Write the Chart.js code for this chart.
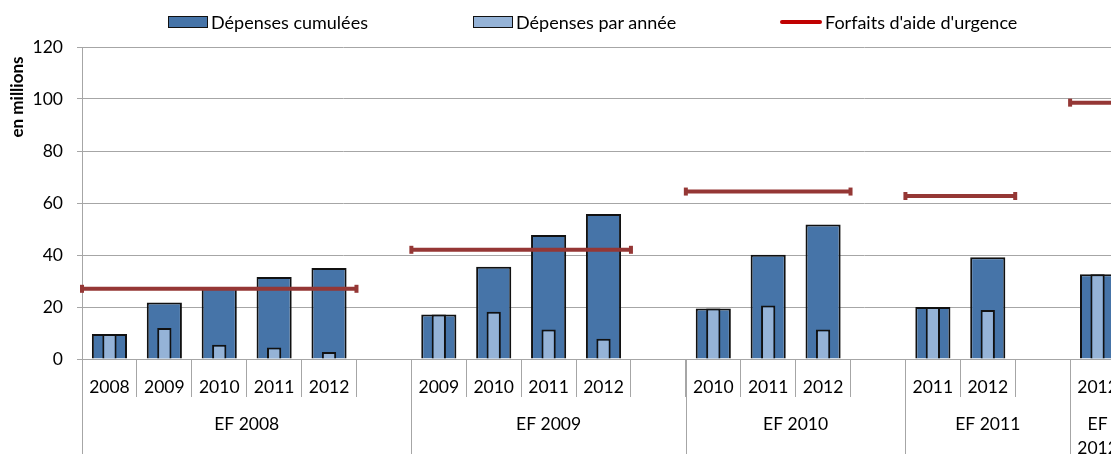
<!DOCTYPE html>
<html>
<head>
<meta charset="utf-8">
<script src="https://cdn.jsdelivr.net/npm/chart.js@4/dist/chart.umd.min.js"></script>
<style>
  body { margin: 0; overflow: hidden; background: #fff; }
  #wrap { position: relative; width: 1111px; height: 454px; overflow: hidden; }
  #legend { position: absolute; top: 0; left: 0; width: 1111px; height: 40px; font-family: Lato, sans-serif; font-size: 18px; color: #000; }
  .item { position: absolute; top: 11px; display: flex; align-items: center; white-space: nowrap; }
  .box { width: 40px; height: 12px; border: 1.5px solid #111; margin-right: 3px; box-sizing: border-box; }
  .line { width: 42px; height: 4px; border-radius: 2px; background: #c00000; margin-right: 3px; }
  canvas { position: absolute; top: 0; left: 0; }
</style>
</head>
<body>
<div id="wrap">
  <canvas id="chart" width="1135" height="454"></canvas>
  <div id="legend">
    <div class="item" style="left:168px"><span class="box" style="background:#4674a8"></span>Dépenses cumulées</div>
    <div class="item" style="left:473px"><span class="box" style="background:#95b3d7"></span>Dépenses par année</div>
    <div class="item" style="left:780px"><span class="line"></span>Forfaits d'aide d'urgence</div>
  </div>
</div>
<script>
const yearLabels = ['2008', '2009', '2010', '2011', '2012', '',
                    '2009', '2010', '2011', '2012', '',
                    '2010', '2011', '2012', '',
                    '2011', '2012', '',
                    '2012'];
const cumulative = [9.6, 21.7, 27.5, 31.5, 35.0, null,
                    17.1, 35.5, 47.7, 55.8, null,
                    19.4, 40.1, 51.7, null,
                    20.0, 39.1, null,
                    32.6];
const perYear = [9.6, 11.9, 5.5, 4.4, 2.7, null,
                 17.1, 18.2, 11.3, 7.8, null,
                 19.4, 20.6, 11.3, null,
                 20.0, 18.8, null,
                 32.6];
const groupLabels = ['EF 2008', 'EF 2009', 'EF 2010', 'EF 2011', 'EF 2012'];
const groupSizes = [6, 5, 4, 3, 1];
const groupYears = [5, 4, 3, 2, 1];
const forfaits = [27, 42, 64.4, 62.7, 98.6];

const FONT = 'Lato, sans-serif';

// forfait segments span the year slots of each group
const forfaitPoints = [];
let start = 0;
groupSizes.forEach((n, g) => {
    forfaitPoints.push({ x: start - 0.5, y: forfaits[g] });
    forfaitPoints.push({ x: start + groupYears[g] - 0.5, y: forfaits[g] });
    forfaitPoints.push({ x: start + groupYears[g], y: null });
    start += n;
});

const groupAxis = {
    id: 'groupAxis',
    afterDraw(chart) {
        const ctx = chart.ctx;
        const x = chart.scales.x;
        const area = chart.chartArea;
        const slot = x.width / yearLabels.length;
        ctx.save();
        ctx.strokeStyle = '#a6a6a6';
        ctx.lineWidth = 1;
        ctx.fillStyle = '#000';
        ctx.font = '17.5px ' + FONT;
        ctx.textAlign = 'center';
        ctx.textBaseline = 'middle';
        let s = 0;
        groupSizes.forEach((n, g) => {
            const left = x.getPixelForValue(s) - slot / 2;
            const right = left + n * slot;
            ctx.beginPath();
            ctx.moveTo(Math.round(left) + 0.5, area.bottom);
            ctx.lineTo(Math.round(left) + 0.5, chart.height);
            ctx.stroke();
            const cx = (left + right) / 2;
            const text = groupLabels[g];
            if (ctx.measureText(text).width > n * slot - 8) {
                const parts = text.split(' ');
                ctx.fillText(parts[0], cx, 424);
                ctx.fillText(parts[1], cx, 448);
            } else {
                ctx.fillText(text, cx, 424);
            }
            s += n;
        });
        // y axis title
        ctx.translate(18, 97);
        ctx.rotate(-Math.PI / 2);
        ctx.font = 'bold 17px ' + FONT;
        ctx.fillText('en millions', 0, 0);
        ctx.restore();
    }
};

new Chart(document.getElementById('chart').getContext('2d'), {
    type: 'bar',
    data: {
        labels: yearLabels,
        datasets: [{
            label: 'Dépenses cumulées',
            data: cumulative,
            backgroundColor: '#4674a8',
            borderColor: '#111',
            borderWidth: 2,
            grouped: false,
            categoryPercentage: 1,
            barPercentage: 0.64,
            order: 2
        }, {
            label: 'Dépenses par année',
            data: perYear,
            backgroundColor: '#95b3d7',
            borderColor: '#111',
            borderWidth: 2,
            grouped: false,
            categoryPercentage: 1,
            barPercentage: 0.26,
            order: 1
        }, {
            type: 'line',
            label: "Forfaits d'aide d'urgence",
            data: forfaitPoints,
            xAxisID: 'xl',
            borderColor: '#953735',
            borderWidth: 4,
            spanGaps: false,
            pointStyle: 'line',
            rotation: 90,
            pointRadius: 4,
            pointBorderWidth: 4,
            pointBorderColor: '#953735',
            clip: 10,
            order: 0
        }]
    },
    options: {
        responsive: false,
        animation: false,
        layout: { padding: { left: 0, right: 10, top: 47, bottom: 0 } },
        plugins: {
            legend: { display: false },
            tooltip: { enabled: false }
        },
        scales: {
            x: {
                type: 'category',
                offset: true,
                grid: { offset: true, drawOnChartArea: false, tickLength: 38, color: '#a6a6a6' },
                border: { color: '#a6a6a6' },
                ticks: { autoSkip: false, maxRotation: 0, padding: -20, color: '#000', font: { family: FONT, size: 17.5 } },
                afterFit: s => { s.height = 95; }
            },
            xl: {
                type: 'linear',
                display: false,
                offset: false,
                grid: { offset: false },
                min: -0.5,
                max: yearLabels.length - 0.5
            },
            y: {
                min: 0,
                max: 120,
                ticks: { stepSize: 20, padding: 14, color: '#000', font: { family: FONT, size: 17.5 } },
                grid: { color: '#a6a6a6', tickLength: 5 },
                border: { color: '#a6a6a6' },
                afterFit: s => { s.width = 82; }
            }
        }
    },
    plugins: [groupAxis]
});
</script>
</body>
</html>
